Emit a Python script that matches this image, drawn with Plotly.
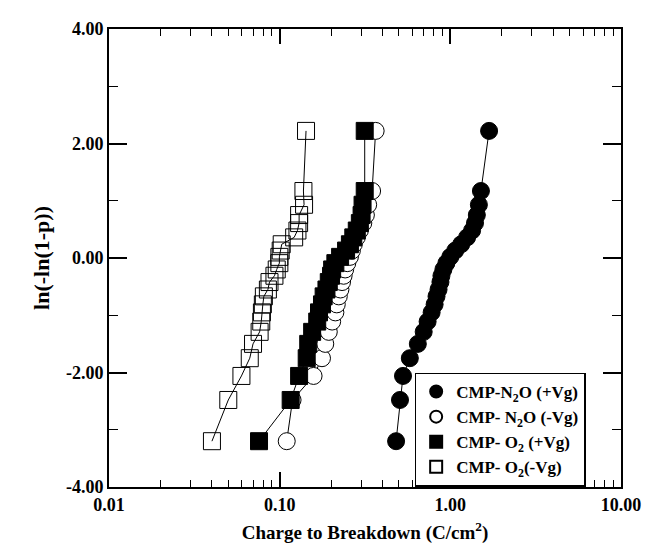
import plotly.graph_objects as go

# Weibull plotting positions ln(-ln(1-p)), shared by all four series
y_weibull = [-3.20, -2.48, -2.06, -1.75, -1.50, -1.29, -1.11, -0.95, -0.81, -0.67,
             -0.55, -0.42, -0.31, -0.20, -0.09, 0.02, 0.13, 0.24, 0.36, 0.48,
             0.61, 0.75, 0.93, 1.17, 2.22]

# charge to breakdown (C/cm2)
qbd_n2o_pos = [0.481, 0.507, 0.528, 0.579, 0.645, 0.698, 0.736, 0.777, 0.809, 0.830,
               0.853, 0.875, 0.887, 0.911, 0.948, 1.00, 1.069, 1.158, 1.254, 1.341,
               1.395, 1.43, 1.47, 1.511, 1.687]
qbd_n2o_neg = [0.110, 0.119, 0.158, 0.177, 0.185, 0.194, 0.203, 0.212, 0.216, 0.222,
               0.227, 0.232, 0.237, 0.242, 0.249, 0.258, 0.265, 0.272, 0.283, 0.295,
               0.309, 0.320, 0.330, 0.348, 0.365]
qbd_o2_pos = [0.0757, 0.116, 0.130, 0.144, 0.147, 0.155, 0.166, 0.170, 0.177, 0.181,
              0.188, 0.194, 0.200, 0.203, 0.212, 0.226, 0.245, 0.258, 0.270, 0.283,
              0.295, 0.302, 0.306, 0.315, 0.315]
qbd_o2_neg = [0.0401, 0.0500, 0.0597, 0.0668, 0.0698, 0.0763, 0.0780, 0.0787, 0.0797, 0.0808,
              0.0853, 0.0872, 0.0932, 0.0961, 0.0996, 0.0996, 0.1014, 0.1028, 0.1216, 0.1271,
              0.130, 0.130, 0.139, 0.1378, 0.1427]

series_names = ["CMP-N<sub>2</sub>O (+Vg)", "CMP- N<sub>2</sub>O (-Vg)",
                "CMP- O<sub>2</sub> (+Vg)", "CMP- O<sub>2</sub>(-Vg)"]

y_ticks = [-4, -2, 0, 2, 4]
y_ticktext = ["-4.00", "-2.00", "0.00", "2.00", "4.00"]

FONT = "Liberation Serif"
BLACK = "black"

estilos = [
    dict(symbol="circle", color=BLACK, line=dict(color=BLACK, width=1)),
    dict(symbol="circle", color="white", line=dict(color=BLACK, width=1)),
    dict(symbol="square", color=BLACK, line=dict(color=BLACK, width=1)),
    dict(symbol="square-open", color=BLACK, line=dict(color=BLACK, width=1)),
]
datos = [qbd_n2o_pos, qbd_n2o_neg, qbd_o2_pos, qbd_o2_neg]

fig = go.Figure()

for xs, est in zip(datos, estilos):
    fig.add_trace(go.Scatter(
        x=xs, y=y_weibull,
        mode="lines+markers",
        line=dict(color=BLACK, width=1),
        marker=dict(size=17, **est),
        showlegend=False,
    ))

# entradas de leyenda solo con marcador
for name, est in zip(series_names, estilos):
    fig.add_trace(go.Scatter(
        x=[None], y=[None],
        mode="markers",
        name=name,
        marker=dict(size=17, **est),
    ))

fig.update_layout(
    width=644, height=546,
    paper_bgcolor="white",
    plot_bgcolor="white",
    margin=dict(l=101, r=25, t=11, b=67),
    font=dict(family=FONT, color=BLACK),
    legend=dict(
        x=0.597, y=0.25, xanchor="left", yanchor="top",
        bgcolor="white", bordercolor=BLACK, borderwidth=1.5,
        font=dict(family=FONT, size=17, color=BLACK, weight="bold"),
        tracegroupgap=0, itemsizing="constant",
    ),
    xaxis=dict(
        type="log",
        range=[-2, 1],
        dtick=1,
        tickformat=".2f",
        ticks="inside", ticklen=15, tickwidth=1.5, tickcolor=BLACK,
        minor=dict(dtick="D1", ticks="inside", ticklen=7, tickwidth=1, tickcolor=BLACK, showgrid=False),
        showline=True, linecolor=BLACK, linewidth=2, mirror="ticks",
        showgrid=False, zeroline=False,
        tickfont=dict(family=FONT, size=18, color=BLACK, weight="bold"),
        title=dict(text="Charge to Breakdown (C/cm<sup>2</sup>)", standoff=12,
                   font=dict(family=FONT, size=19, color=BLACK, weight="bold")),
    ),
    yaxis=dict(
        range=[-4, 4],
        tickvals=y_ticks,
        ticktext=y_ticktext,
        ticks="inside", ticklen=18, tickwidth=1.5, tickcolor=BLACK,
        minor=dict(tick0=-3, dtick=2, ticks="inside", ticklen=9, tickwidth=1, tickcolor=BLACK, showgrid=False),
        showline=True, linecolor=BLACK, linewidth=2, mirror="ticks",
        showgrid=False, zeroline=False,
        tickfont=dict(family=FONT, size=18, color=BLACK, weight="bold"),
        title=dict(text="ln(-ln(1-p))", standoff=10,
                   font=dict(family=FONT, size=22, color=BLACK, weight="bold")),
    ),
)

fig.write_html("out.html")
